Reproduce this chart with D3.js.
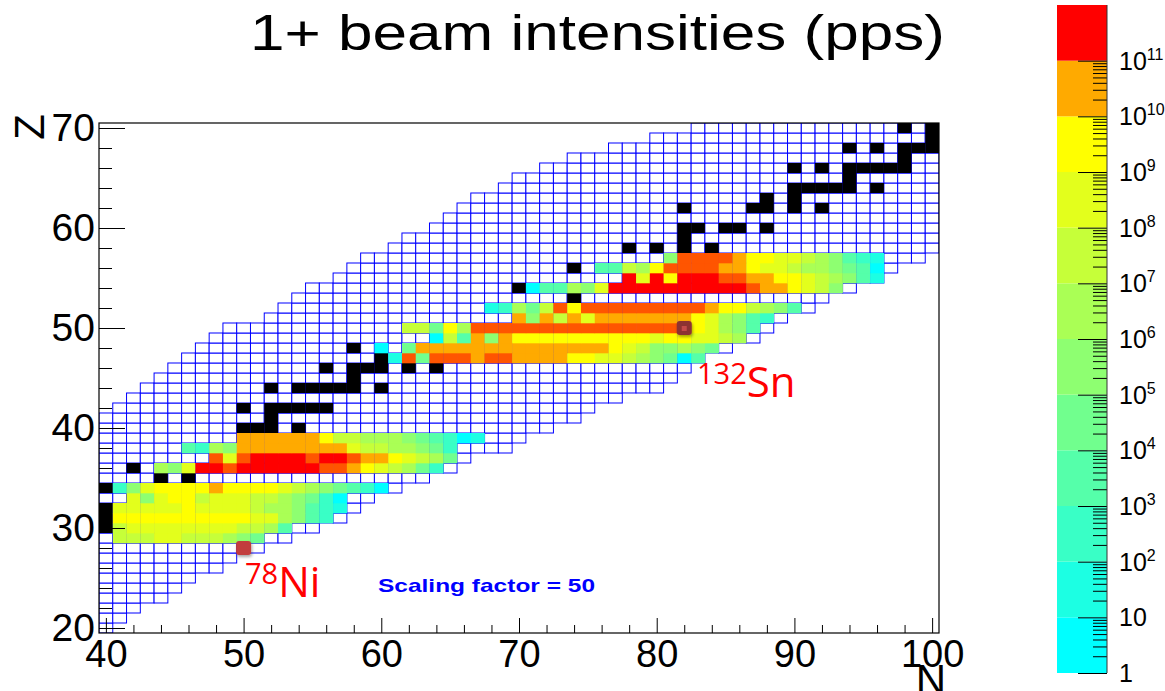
<!DOCTYPE html>
<html>
<head>
<meta charset="utf-8">
<script src="https://cdn.jsdelivr.net/npm/d3@7"></script>
<style>
  body { margin: 0; background: #fff; }
  svg { display: block; }
  text { font-family: "Liberation Sans", Arial, sans-serif; }
</style>
</head>
<body>
<svg id="chart" width="1165" height="691"></svg>
<script>
// ---- data ----
const zValues = d3.range(20, 71);
// first / last N of the nuclide grid, one entry per Z (20..70)
const gridFirstN = [40,40,40,40,40,40,40,40,40,40, 40,40,40,40,40,40,40,40,40,40,
                    40,40,41,42,43,44,45,46,47,48, 49,52,53,54,55,57,58,59,61,62,
                    64,65,66,67,69,70,72,74,77,80, 83];
const gridLastN  = [40,41,42,44,45,46,48,49,51,53, 55,57,58,59,61,63,65,66,69,70,
                    72,74,75,77,80,81,82,83,85,87, 88,89,91,92,94,96,97,99,100,100,
                    100,100,100,100,100,100,100,100,100,100, 100];

// stable nuclides drawn in black: [Z, [N...]]
const stableCells = [
  [30, [40]], [31, [40]], [32, [40]], [34, [40]], [35, [44, 46]], [36, [42]],
  [40, [50, 51, 52, 54]], [41, [52]], [42, [50, 52, 53, 54, 55, 56]],
  [44, [52, 54, 55, 56, 57, 58, 60]], [45, [58]], [46, [56, 58, 59, 60, 62, 64]],
  [47, [60]], [48, [58]], [53, [74]], [54, [70]], [56, [74]],
  [58, [78, 80, 82, 84]], [59, [82]], [60, [82, 83, 85, 86, 88]],
  [62, [82, 87, 88, 90, 92]], [63, [88, 90]], [64, [90, 91, 92, 93, 94, 96]],
  [65, [94]], [66, [90, 92, 94, 95, 96, 97, 98]], [67, [98]],
  [68, [94, 96, 98, 99, 100]], [69, [100]], [70, [98, 100]]
];

// beam intensity per cell as log10(pps) decade: 0-9 digits, o = 10, x = 10.5, r = 11, . = none
// [Z, first N, one character per N]
const intensityRows = [
  [29, 41, "77788777654"],
  [30, 41, "7888888887763"],
  [31, 41, "9999999999886532"],
  [32, 41, "88888988887665321"],
  [33, 42, "8589978887765420"],
  [34, 41, "2589999o999987654320"],
  [36, 44, "658rrxrrrrrrxxo987642"],
  [37, 48, "x8xrrrrxrrxoo98764"],
  [38, 46, "3265oooooooo87766542"],
  [39, 50, "oooooo977666543201"],
  [47, 61, "1x4xxxoxxoooo9988765403"],
  [48, 60, "0.4oooooooooooooo98755654"],
  [49, 64, "073o5o99999999998998876"],
  [50, 62, "77496xxxxxxxxxxxxxxxx98653"],
  [51, 70, "o5o7o8ooooooo986532"],
  [52, 68, "12647x9xxxxxxxxxo997653"],
  [54, 71, "033658rrrrrrrrrrxoo9875"],
  [55, 78, "r8r9rrrxxoo99876531"],
  [56, 76, "33769xxxxoo9887665430"],
  [57, 81, "5xxxxo9988765321"]
];

const markers = [
  { mass: "78", name: "Ni", n: 50, z: 28 },
  { mass: "132", name: "Sn", n: 82, z: 50 }
];

const barDecades = d3.range(0, 12);           // colour bar bands 10^k .. 10^(k+1)
const barLabelDecades = d3.range(0, 12);      // labels 1 .. 10^11
const xMajorTicks = d3.range(40, 101, 10);
const xMinorTicks = d3.range(40, 101, 2).filter(v => v % 10 !== 0);
const yMajorTicks = d3.range(20, 71, 10);
const yMinorTicks = d3.range(20, 71, 2).filter(v => v % 10 !== 0);

// ---- drawing ----
const svg = d3.select("#chart");
const plot = { left: 99, right: 939, top: 123, bottom: 633 };

const x = d3.scaleLinear().domain([39.5, 100.5]).range([plot.left, plot.right]);
const y = d3.scaleLinear().domain([19.5, 70.5]).range([plot.bottom, plot.top]);
const cw = x(1) - x(0);
const ch = y(0) - y(1);

const ramp = d3.interpolateRgb("#00ffff", "#ffff00");
const color = d3.scaleThreshold()
  .domain([1, 2, 3, 4, 5, 6, 7, 8, 9, 10, 10.5, 11])
  .range(d3.range(10).map(i => ramp(i / 9)).concat(["#ffaa00", "#ff5500", "#ff0000"]));

const levelOf = c => c === "o" ? 10 : c === "x" ? 10.5 : c === "r" ? 11 : c === "." ? null : +c;

const defs = svg.append("defs");
defs.append("clipPath").attr("id", "plotClip")
  .append("rect")
  .attr("x", plot.left).attr("y", plot.top)
  .attr("width", plot.right - plot.left).attr("height", plot.bottom - plot.top);
const shadow = defs.append("filter").attr("id", "shadow")
  .attr("x", "-50%").attr("y", "-50%").attr("width", "200%").attr("height", "200%");
shadow.append("feDropShadow")
  .attr("dx", 1).attr("dy", 2).attr("stdDeviation", 1.6)
  .attr("flood-color", "#000").attr("flood-opacity", 0.35);

// title
svg.append("text")
  .attr("x", 250).attr("y", 50)
  .attr("font-size", 50)
  .attr("textLength", 695).attr("lengthAdjust", "spacingAndGlyphs")
  .text("1+ beam intensities (pps)");

const cells = svg.append("g").attr("clip-path", "url(#plotClip)");

// nuclide grid
const gridCells = zValues.flatMap((z, i) =>
  d3.range(gridFirstN[i], gridLastN[i] + 1).map(n => ({ n, z })));

cells.append("g").selectAll("rect").data(gridCells).join("rect")
  .attr("x", d => x(d.n - 0.5))
  .attr("y", d => y(d.z + 0.5))
  .attr("width", cw).attr("height", ch)
  .attr("fill", "#fff")
  .attr("stroke", "#0000ff")
  .attr("stroke-width", 1);

// stable nuclides
const blackCells = stableCells.flatMap(([z, ns]) => ns.map(n => ({ n, z })));
cells.append("g").selectAll("rect").data(blackCells).join("rect")
  .attr("x", d => x(d.n - 0.5))
  .attr("y", d => y(d.z + 0.5))
  .attr("width", cw).attr("height", ch)
  .attr("fill", "#000");

// intensities
const dataCells = intensityRows.flatMap(([z, n0, s]) =>
  s.split("").map((c, i) => ({ n: n0 + i, z, level: levelOf(c) })))
  .filter(d => d.level !== null);

cells.append("g").selectAll("rect").data(dataCells).join("rect")
  .attr("x", d => x(d.n - 0.5))
  .attr("y", d => y(d.z + 0.5))
  .attr("width", cw + 0.3).attr("height", ch + 0.3)
  .attr("fill", d => color(d.level));

// marked nuclides
const mk = svg.append("g");
mk.selectAll("rect.mark").data(markers).join("rect")
  .attr("class", "mark")
  .attr("x", d => x(d.n) - 7.5)
  .attr("y", d => y(d.z) - 7)
  .attr("width", 15).attr("height", 14)
  .attr("rx", 3)
  .attr("fill", d => d.name === "Sn" ? "#8c3232" : "#c23c3c")
  .attr("filter", "url(#shadow)");
mk.selectAll("rect.dot").data(markers.filter(d => d.name === "Sn")).join("rect")
  .attr("class", "dot")
  .attr("x", d => x(d.n) - 2.5)
  .attr("y", d => y(d.z) - 2)
  .attr("width", 5).attr("height", 5)
  .attr("fill", "#c44a4a");

const labelPos = { Ni: [245, 597], Sn: [697, 397] };
markers.forEach(d => {
  const t = svg.append("text")
    .attr("x", labelPos[d.name][0]).attr("y", labelPos[d.name][1])
    .attr("fill", "#ff0000")
    .style("font-family", "'Open Sans', 'Noto Sans', sans-serif");
  t.append("tspan").attr("font-size", 29).attr("dy", -13).text(d.mass);
  t.append("tspan").attr("font-size", 42).attr("dy", 13).text(d.name);
});

svg.append("text")
  .attr("x", 378).attr("y", 592)
  .attr("font-size", 19).attr("font-weight", "bold")
  .attr("fill", "#0000ff")
  .attr("textLength", 217).attr("lengthAdjust", "spacingAndGlyphs")
  .text("Scaling factor = 50");

// frame
svg.append("rect")
  .attr("x", plot.left).attr("y", plot.top)
  .attr("width", plot.right - plot.left).attr("height", plot.bottom - plot.top)
  .attr("fill", "none").attr("stroke", "#000").attr("stroke-width", 1.2);

// axes
function styleAxis(g, size) {
  g.select(".domain").remove();
  g.selectAll(".tick line").attr("stroke", "#000");
  g.attr("font-family", "'Liberation Sans', Arial, sans-serif").attr("font-size", size);
  g.selectAll("text").attr("fill", "#000");
}
svg.append("g").attr("transform", `translate(0,${plot.bottom})`)
  .call(d3.axisBottom(x).tickValues(xMinorTicks).tickSize(-8).tickFormat(""))
  .call(g => styleAxis(g, 36));
svg.append("g").attr("transform", `translate(0,${plot.bottom})`)
  .call(d3.axisBottom(x).tickValues(xMajorTicks).tickSize(-15).tickPadding(7))
  .call(g => styleAxis(g, 38));
svg.append("g").attr("transform", `translate(${plot.left},0)`)
  .call(d3.axisLeft(y).tickValues(yMinorTicks).tickSize(-13).tickFormat(""))
  .call(g => styleAxis(g, 36));
svg.append("g").attr("transform", `translate(${plot.left},0)`)
  .call(d3.axisLeft(y).tickValues(yMajorTicks).tickSize(-26).tickPadding(4))
  .call(g => styleAxis(g, 39));

// axis titles
svg.append("text")
  .attr("transform", "translate(44,114) rotate(-90)")
  .attr("text-anchor", "end")
  .attr("font-size", 42)
  .text("Z");
svg.append("text")
  .attr("x", 946).attr("y", 694)
  .attr("text-anchor", "end")
  .attr("font-size", 42)
  .text("N");

// colour bar
const bar = { left: 1057, right: 1107 };
const cb = d3.scaleLog().domain([1, 1e12]).range([673, 5]);

svg.append("g").selectAll("rect").data(barDecades).join("rect")
  .attr("x", bar.left)
  .attr("y", k => cb(Math.pow(10, k + 1)))
  .attr("width", bar.right - bar.left)
  .attr("height", k => cb(Math.pow(10, k)) - cb(Math.pow(10, k + 1)))
  .attr("fill", k => color(k));

const minorVals = d3.range(0, 11).flatMap(k => d3.range(2, 10).map(m => m * Math.pow(10, k)));
svg.append("g").attr("transform", `translate(${bar.right},0)`)
  .call(d3.axisRight(cb).tickValues(minorVals).tickSize(-14).tickFormat(""))
  .call(g => styleAxis(g, 20));
svg.append("g").attr("transform", `translate(${bar.right},0)`)
  .call(d3.axisRight(cb).tickValues(barLabelDecades.map(k => Math.pow(10, k))).tickSize(-29).tickFormat(""))
  .call(g => { styleAxis(g, 20); g.select(".domain").remove(); });
svg.append("line")
  .attr("x1", bar.right).attr("x2", bar.right)
  .attr("y1", cb(1e12)).attr("y2", cb(1))
  .attr("stroke", "#333").attr("stroke-width", 1);

const lbl = svg.append("g").selectAll("text").data(barLabelDecades).join("text")
  .attr("x", 1119)
  .attr("y", k => cb(Math.pow(10, k)) + 9)
  .attr("font-size", 25);
lbl.each(function (k) {
  const t = d3.select(this);
  if (k === 0) { t.text("1"); return; }
  t.append("tspan").text("10");
  if (k > 1) t.append("tspan").attr("font-size", 16).attr("dy", -10).text(k);
});
</script>
</body>
</html>
